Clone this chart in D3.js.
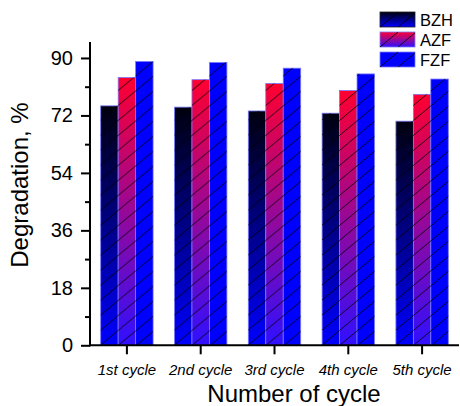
<!DOCTYPE html>
<html>
<head>
<meta charset="utf-8">
<script src="https://cdn.jsdelivr.net/npm/d3@7"></script>
<style>
  html, body { margin: 0; padding: 0; background: #fff; }
  svg { display: block; font-family: Arial, "Liberation Sans", sans-serif; }
</style>
</head>
<body>
<svg id="chart" width="460" height="406"></svg>
<script>
// Degradation after repeated cycles for three catalysts
const cycles = ["1st cycle", "2nd cycle", "3rd cycle", "4th cycle", "5th cycle"];
const series = ["BZH", "AZF", "FZF"];
const bzh = [75.0, 74.6, 73.4, 72.7, 70.2];
const azf = [83.9, 83.2, 82.0, 79.8, 78.6];
const fzf = [88.9, 88.6, 86.8, 85.0, 83.4];
const yTicks = [0, 18, 36, 54, 72, 90];
const yMinorTicks = [9, 27, 45, 63, 81];

const values = { BZH: bzh, AZF: azf, FZF: fzf };
const rows = cycles.map((c, i) => ({ cycle: c, vals: series.map(s => ({ key: s, value: values[s][i] })) }));

const svg = d3.select("#chart");
const plotLeft = 90, plotRight = 459, plotTop = 42, plotBottom = 345.3;

const x = d3.scaleBand().domain(cycles).range([plotLeft, plotRight]).paddingInner(0.29).paddingOuter(0.145);
const xs = d3.scaleBand().domain(series).range([0, x.bandwidth()]);
const y = d3.scaleLinear().domain([0, 95]).range([plotBottom, plotTop]);

// fills: vertical gradients per bar plus a diagonal hatch
const defs = svg.append("defs");
const grads = {
  BZH: ["#00000f", "#0000ff"],
  AZF: ["#ff0030", "#3010ff"],
  FZF: ["#0000ff", "#0000ff"]
};
Object.entries(grads).forEach(([k, [c0, c1]]) => {
  const g = defs.append("linearGradient").attr("id", "grad-" + k)
    .attr("x1", 0).attr("y1", 0).attr("x2", 0).attr("y2", 1);
  g.append("stop").attr("offset", "0%").attr("stop-color", c0);
  g.append("stop").attr("offset", "100%").attr("stop-color", c1);
});
const hatch = defs.append("pattern").attr("id", "hatch")
  .attr("patternUnits", "userSpaceOnUse").attr("width", 18).attr("height", 15);
hatch.append("line").attr("x1", 0).attr("y1", 15).attr("x2", 18).attr("y2", 0)
  .attr("stroke", "#000").attr("stroke-width", 0.9).attr("stroke-opacity", 0.9);

const barStroke = "#7a7aff";

// bars
const groups = svg.append("g").selectAll("g").data(rows).join("g")
  .attr("transform", d => `translate(${x(d.cycle)},0)`);
groups.selectAll("rect.fill").data(d => d.vals).join("rect")
  .attr("class", "fill")
  .attr("x", d => xs(d.key)).attr("width", xs.bandwidth())
  .attr("y", d => y(d.value)).attr("height", d => y(0) - y(d.value))
  .attr("fill", d => `url(#grad-${d.key})`)
  .attr("stroke", barStroke).attr("stroke-width", 0.8);
groups.selectAll("rect.hatch").data(d => d.vals).join("rect")
  .attr("class", "hatch")
  .attr("x", d => xs(d.key)).attr("width", xs.bandwidth())
  .attr("y", d => y(d.value)).attr("height", d => y(0) - y(d.value))
  .attr("fill", "url(#hatch)");

// y axis
const yAxis = svg.append("g").attr("transform", `translate(${plotLeft},0)`);
yAxis.append("g")
  .call(d3.axisLeft(y).tickValues(yTicks).tickSize(9).tickPadding(8).tickSizeOuter(0))
  .call(g => g.select(".domain").remove())
  .call(g => g.selectAll("line").attr("stroke", "#000").attr("stroke-width", 2))
  .call(g => g.selectAll("text").attr("font-size", 20).attr("fill", "#000")
    .attr("font-family", "Arial, 'Liberation Sans', sans-serif"));
yAxis.append("g")
  .call(d3.axisLeft(y).tickValues(yMinorTicks).tickSize(5).tickFormat(""))
  .call(g => g.select(".domain").remove())
  .call(g => g.selectAll("line").attr("stroke", "#000").attr("stroke-width", 2));
yAxis.append("line").attr("x1", 0).attr("x2", 0).attr("y1", y(95)).attr("y2", y(0) + 1)
  .attr("stroke", "#000").attr("stroke-width", 2);

// x axis
const xAxis = svg.append("g").attr("transform", `translate(0,${plotBottom})`);
xAxis.call(d3.axisBottom(x).tickSize(9).tickPadding(10).tickSizeOuter(0))
  .call(g => g.select(".domain").remove())
  .call(g => g.selectAll("line").attr("stroke", "#000").attr("stroke-width", 2))
  .call(g => g.selectAll("text").attr("font-size", 15).attr("font-style", "italic")
    .attr("fill", "#000").attr("font-family", "Arial, 'Liberation Sans', sans-serif"));
xAxis.append("line").attr("x1", plotLeft - 1).attr("x2", plotRight).attr("y1", 0).attr("y2", 0)
  .attr("stroke", "#000").attr("stroke-width", 2);

// axis titles
svg.append("text").attr("transform", "translate(28,185) rotate(-90)")
  .attr("text-anchor", "middle").attr("font-size", 24).attr("fill", "#000")
  .text("Degradation, %");
svg.append("text").attr("x", 294).attr("y", 402)
  .attr("text-anchor", "middle").attr("font-size", 24).attr("fill", "#000")
  .text("Number of cycle");

// legend
const legend = svg.append("g").attr("transform", "translate(380,12)");
const li = legend.selectAll("g").data(series).join("g")
  .attr("transform", (d, i) => `translate(0,${i * 20})`);
li.append("rect").attr("width", 35).attr("height", 15)
  .attr("fill", d => `url(#grad-${d})`)
  .attr("stroke", d => d === "BZH" ? "#222" : barStroke).attr("stroke-width", 0.8);
li.append("rect").attr("width", 35).attr("height", 15).attr("fill", "url(#hatch)");
li.append("text").attr("x", 40).attr("y", 14).attr("font-size", 16.5).attr("fill", "#000")
  .text(d => d);
</script>
</body>
</html>
